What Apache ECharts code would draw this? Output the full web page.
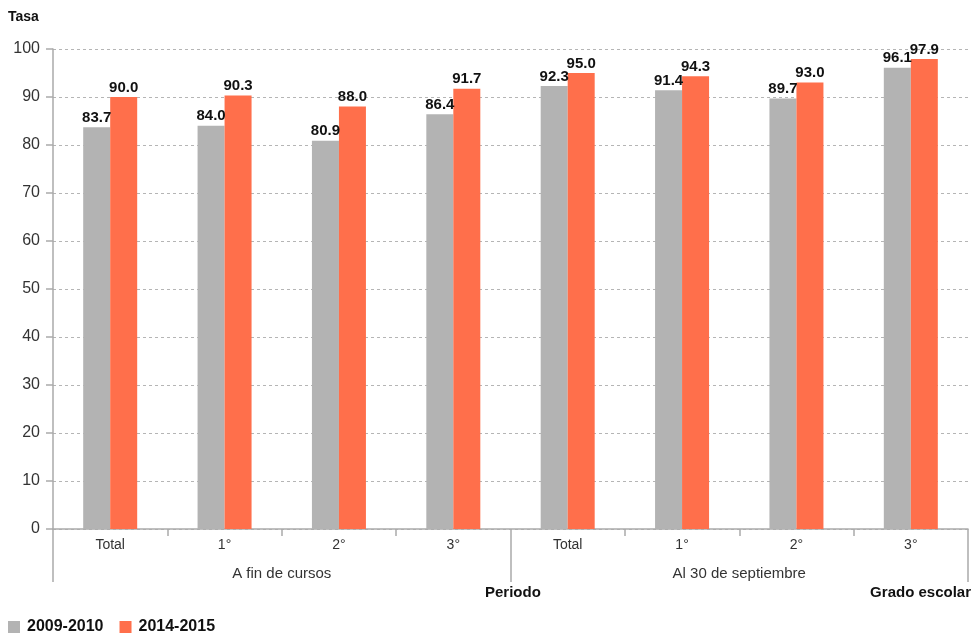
<!DOCTYPE html>
<html><head><meta charset="utf-8">
<script src="https://cdn.jsdelivr.net/npm/echarts@6/dist/echarts.min.js"></script>
<style>html,body{margin:0;padding:0;background:#fff}#c{width:972px;height:634px}</style>
</head><body><div id="c"></div>
<script>
const categories = ['Total', '1°', '2°', '3°', 'Total', '1°', '2°', '3°'];
const periods = ['A fin de cursos', 'Al 30 de septiembre'];
const series2009 = [83.7, 84.0, 80.9, 86.4, 92.3, 91.4, 89.7, 96.1];
const series2014 = [90.0, 90.3, 88.0, 91.7, 95.0, 94.3, 93.0, 97.9];
const seriesNames = ['2009-2010', '2014-2015'];
const yTicks = {min: 0, max: 100, interval: 10};

const FONT = '"Liberation Sans", Arial, sans-serif';
const AXIS = '#aaaaaa';
const chart = echarts.init(document.getElementById('c'), null, {renderer: 'canvas'});
const labelCfg = {show: true, position: 'top', distance: 2, color: '#111', fontFamily: FONT, fontWeight: 'bold', fontSize: 15, formatter: p => p.value.toFixed(1)};
chart.setOption({
  animation: false,
  textStyle: {fontFamily: FONT},
  grid: {left: 53, right: 4, top: 49, bottom: 105, containLabel: false},
  legend: {
    left: 8, top: 619, itemWidth: 12, itemHeight: 12, itemGap: 16, icon: 'rect', padding: 0,
    textStyle: {fontFamily: FONT, fontWeight: 'bold', fontSize: 16, color: '#111', padding: [0, 0, 0, 2]},
    data: seriesNames
  },
  graphic: [
    {type: 'text', left: 8, top: 10, style: {text: 'Tasa', font: 'bold 14px ' + FONT, fill: '#111'}},
    {type: 'text', left: 485, top: 585, style: {text: 'Periodo', font: 'bold 15px ' + FONT, fill: '#111'}},
    {type: 'text', right: 1, top: 585, style: {text: 'Grado escolar', font: 'bold 15px ' + FONT, fill: '#111'}}
  ],
  xAxis: [
    {
      type: 'category', position: 'bottom', data: categories,
      axisLine: {show: true, lineStyle: {color: AXIS, width: 1.5}},
      axisTick: {show: true, interval: 0, length: 7, lineStyle: {color: AXIS, width: 1.5}},
      axisLabel: {interval: 0, margin: 9, color: '#333', fontSize: 14, fontFamily: FONT},
      splitLine: {show: false}
    },
    {
      type: 'category', position: 'bottom', data: periods,
      axisLine: {show: false},
      axisTick: {show: true, interval: 0, length: 53, lineStyle: {color: AXIS, width: 1.5}},
      axisLabel: {interval: 0, margin: 37, color: '#333', fontSize: 15, fontFamily: FONT},
      splitLine: {show: false}
    }
  ],
  yAxis: {
    type: 'value', min: yTicks.min, max: yTicks.max, interval: yTicks.interval,
    axisLine: {show: true, lineStyle: {color: AXIS, width: 1.5}},
    axisTick: {show: true, length: 7, lineStyle: {color: AXIS, width: 1.5}},
    axisLabel: {margin: 13, color: '#333', fontSize: 16, fontFamily: FONT},
    splitLine: {show: true, lineStyle: {color: '#b5b5b5', type: [3, 3], width: 1}}
  },
  series: [
    {name: seriesNames[0], type: 'bar', xAxisIndex: 0, data: series2009, barWidth: 27, barGap: '0%', itemStyle: {color: '#b3b3b3'}, label: labelCfg},
    {name: seriesNames[1], type: 'bar', xAxisIndex: 0, data: series2014, barWidth: 27, barGap: '0%', itemStyle: {color: '#ff6f4b'}, label: labelCfg}
  ]
});
</script></body></html>
